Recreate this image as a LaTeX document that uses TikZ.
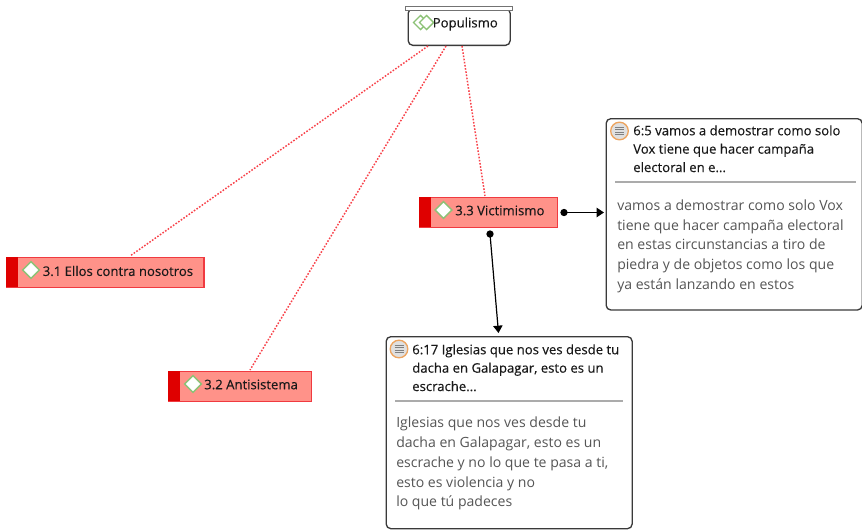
\documentclass[tikz,border=0pt]{standalone}
\usepackage{fontspec}
\setmainfont{Open Sans}
\usetikzlibrary{arrows.meta,shapes.geometric}
\definecolor{codefill}{HTML}{FF9289}
\definecolor{codeedge}{HTML}{F03A40}
\definecolor{codedark}{HTML}{DF0000}
\definecolor{diagreen}{HTML}{8CC276}
\definecolor{noteorange}{HTML}{EDA45F}
\definecolor{noteedge}{HTML}{3A3A3A}
\definecolor{bodygrey}{HTML}{555555}
\definecolor{rulegrey}{HTML}{ABABAB}
\definecolor{dotred}{HTML}{F8424A}
\newfontfamily\semibold[FakeBold=0.25]{Open Sans}
\tikzset{
  x=0.75pt,y=-0.75pt,
  codebox/.style={draw=codeedge,line width=1pt,fill=codefill,minimum height=22.5pt,inner sep=0pt,anchor=north west},
  codebar/.style={fill=codedark,minimum height=22.5pt,minimum width=9pt,inner sep=0pt,anchor=north west},
  dia/.style={diamond,draw=diagreen,fill=white,line width=1pt,minimum width=13pt,minimum height=13pt,inner sep=0pt},
  codetext/.style={font=\semibold\fontsize{9.85pt}{10pt}\selectfont,text=black!90,anchor=west,inner sep=0pt},
  relline/.style={draw=dotred,line width=1.1pt,dash pattern=on 1.2pt off 1.2pt},
  notebox/.style={draw=noteedge,fill=white,line width=1pt,rounded corners=3.5pt,inner sep=0pt,anchor=north west},
  notetitle/.style={font=\semibold\fontsize{9.85pt}{13.8pt}\selectfont,text=black!90,align=left,anchor=north west,inner sep=0pt},
  notebody/.style={font=\fontsize{10.55pt}{14.8pt}\selectfont,text=bodygrey,align=left,anchor=north west,inner sep=0pt},
  noteicon/.style={circle,draw=noteorange,fill=black!12,line width=1pt,minimum size=13.2pt,inner sep=0pt},
  linkline/.style={draw=black,line width=0.9pt,-{Triangle[length=5.5pt,width=7pt]}},
  startdot/.style={circle,fill=black,minimum size=5.5pt,inner sep=0pt},
}
\newcommand{\iconlines}[1]{%
  \foreach \yy in {-3.5,-1.2,1.2,3.5}
    \draw[black!50,line width=0.8pt] ([shift={(-4.5,\yy)}]#1.center) -- ([shift={(4.5,\yy)}]#1.center);}
\begin{document}
\begin{tikzpicture}
\useasboundingbox (0,0) rectangle (862,529);
% Root
\node[draw=noteedge,fill=white,line width=1pt,rounded corners=3.5pt,minimum width=76.5pt,minimum height=27.5pt,inner sep=0pt,anchor=north west] (pop) at (407.5,8) {};
\node[draw=black!55,fill=white,line width=0.8pt,minimum width=80.5pt,minimum height=3.5pt,inner sep=0pt,anchor=north west] (popbar) at (405,5.5) {};
\node[diamond,draw=diagreen,line width=1pt,minimum width=11pt,minimum height=11pt,inner sep=0pt] (popd1) at (420.5,22.5) {};
\node[diamond,draw=diagreen,fill=white,line width=1pt,minimum width=11pt,minimum height=11pt,inner sep=0pt] (popd2) at (426.5,22.5) {};
\node[codetext] (poptext) at (432.5,24) {Populismo};
% codes
\node[codebox,minimum width=148pt] (c1) at (6,257) {};
\node[codebar] (c1b) at (6,257) {};
\node[dia] (c1d) at (31,270) {};
\node[codetext] (c1t) at (42.5,271) {3.1 Ellos contra nosotros};
\node[codebox,minimum width=107pt] (c2) at (168,371) {};
\node[codebar] (c2b) at (168,371) {};
\node[dia] (c2d) at (193,384) {};
\node[codetext] (c2t) at (204,384.5) {3.2 Antisistema};
\node[codebox,minimum width=103.5pt] (c3) at (418.5,197) {};
\node[codebar] (c3b) at (418.5,197) {};
\node[dia] (c3d) at (443.5,210) {};
\node[codetext] (c3t) at (455,210.5) {3.3 Victimismo};
% notes
\node[notebox,minimum width=192pt,minimum height=143.5pt] (n1) at (605.5,118) {};
\node[noteicon] (n1i) at (619.5,131) {};
\iconlines{n1i}
\node[notetitle] (n1t) at (633,125) {6:5 vamos a demostrar como solo\\Vox tiene que hacer campaña\\electoral en e...};
\draw[rulegrey,line width=0.8pt] (615,182) coordinate (n1ra) -- (856,182) coordinate (n1rb);
\node[notebody] (n1b) at (617,199.5) {vamos a demostrar como solo Vox\\tiene que hacer campaña electoral\\en estas circunstancias a tiro de\\piedra y de objetos como los que\\ya están lanzando en estos};
\node[notebox,minimum width=184.5pt,minimum height=144pt] (n2) at (385.5,336) {};
\node[noteicon] (n2i) at (399,349) {};
\iconlines{n2i}
\node[notetitle] (n2t) at (412,344) {6:17 Iglesias que nos ves desde tu\\dacha en Galapagar, esto es un\\escrache...};
\draw[rulegrey,line width=0.8pt] (395,401) coordinate (n2ra) -- (623,401) coordinate (n2rb);
\node[notebody] (n2b) at (396,417) {Iglesias que nos ves desde tu\\dacha en Galapagar, esto es un\\escrache y no lo que te pasa a ti,\\esto es violencia y no\\lo que tú padeces};
% connector ends
\coordinate (p1) at (428,46);
\coordinate (p2) at (446,46);
\coordinate (p3) at (462,46);
\coordinate (e1) at (130,256);
\coordinate (e2) at (250,370);
\coordinate (e3) at (485,196);
\draw[relline] (p1) -- (e1);
\draw[relline] (p2) -- (e2);
\draw[relline] (p3) -- (e3);
\node[startdot] (s1) at (564,212.5) {};
\node[startdot] (s2) at (490,234) {};
\coordinate (a1) at (604,212.5);
\coordinate (a2) at (498.5,333);
\draw[linkline] (s1.center) -- (a1);
\draw[linkline] (s2.center) -- (a2);
\end{tikzpicture}
\end{document}
